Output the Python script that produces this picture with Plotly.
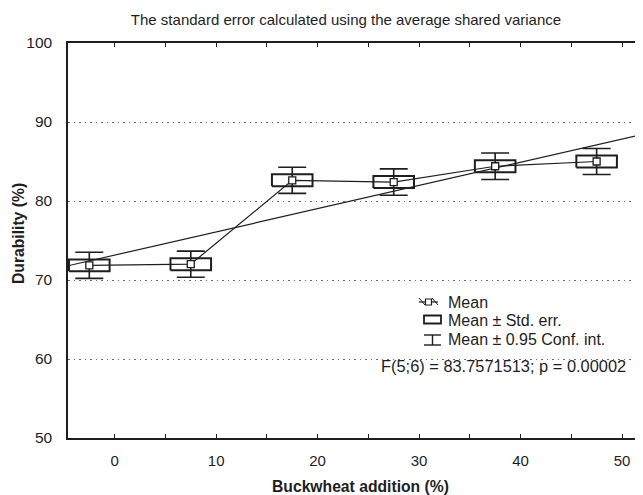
import plotly.graph_objects as go

# ---- data ----
categories = [0, 10, 20, 30, 40, 50]          # Buckwheat addition (%)
means = [71.86, 72.0, 82.62, 82.4, 84.4, 85.0]  # Durability (%)
std_err = [0.74, 0.75, 0.76, 0.77, 0.76, 0.76]
conf95 = [1.65, 1.65, 1.65, 1.67, 1.67, 1.65]
trend_x = [-4.6, 52.07]
trend_y = [71.8, 88.45]
legend_labels = ["Mean", "Mean \u00b1 Std. err.", "Mean \u00b1 0.95 Conf. int."]
stat_text = "F(5;6) = 83.7571513; p = 0.00002"
title_text = "The standard error calculated using the average shared variance"

# ---- styling ----
INK = "#1e1e1e"
FONT = "Liberation Sans, Arial, sans-serif"
OFFSET = -2.5      # categories are drawn shifted left of the scale
HALF_W = 2.0       # half width of the boxes in axis units
PAGE = 8           # default body margin of the html page
W, H = 643 - PAGE, 495 - PAGE
L, R, T = 60, 0, 35
B = 57
PW, PH = W - L - R, H - T - B

pos = [c + OFFSET for c in categories]

fig = go.Figure()

# trend line
fig.add_trace(go.Scatter(x=trend_x, y=trend_y, mode="lines",
                         line=dict(color=INK, width=1.2), hoverinfo="skip"))

# confidence interval whiskers
fig.add_trace(go.Scatter(x=pos, y=means, mode="markers",
                         marker=dict(size=1, color="rgba(0,0,0,0)"),
                         error_y=dict(type="data", array=conf95, visible=True,
                                      color=INK, thickness=1.6, width=14),
                         hoverinfo="skip"))

# standard error boxes
bx, by = [], []
for p, m, s in zip(pos, means, std_err):
    bx += [p - HALF_W, p + HALF_W, p + HALF_W, p - HALF_W, p - HALF_W, None]
    by += [m - s, m - s, m + s, m + s, m - s, None]
fig.add_trace(go.Scatter(x=bx, y=by, mode="lines",
                         line=dict(color=INK, width=2.0), hoverinfo="skip"))

# mean line + markers
fig.add_trace(go.Scatter(x=pos, y=means, mode="lines+markers",
                         line=dict(color=INK, width=1.2),
                         marker=dict(symbol="square", size=7, color="white",
                                     line=dict(color=INK, width=1.3))))

# ---- legend drawn by hand (paper coordinates from page pixel positions) ----
def px(xp):
    return (xp - PAGE - L) / PW

def py(yp):
    return (T + PH - (yp - PAGE)) / PH

shapes = []
# Mean icon
shapes.append(dict(type="line", xref="paper", yref="paper",
                   x0=px(419), x1=px(438), y0=py(302), y1=py(302),
                   line=dict(color=INK, width=1.2)))
shapes.append(dict(type="line", xref="paper", yref="paper",
                   x0=px(419), x1=px(425), y0=py(298), y1=py(305),
                   line=dict(color=INK, width=1.0)))
shapes.append(dict(type="line", xref="paper", yref="paper",
                   x0=px(432), x1=px(438), y0=py(298), y1=py(305),
                   line=dict(color=INK, width=1.0)))
shapes.append(dict(type="rect", xref="paper", yref="paper",
                   x0=px(425.5), x1=px(431.5), y0=py(305), y1=py(299),
                   fillcolor="white", line=dict(color=INK, width=1.2)))
# Box icon
shapes.append(dict(type="rect", xref="paper", yref="paper",
                   x0=px(424), x1=px(441), y0=py(323.5), y1=py(315.5),
                   line=dict(color=INK, width=1.8)))
# Whisker icon
shapes.append(dict(type="line", xref="paper", yref="paper",
                   x0=px(424), x1=px(441), y0=py(335), y1=py(335),
                   line=dict(color=INK, width=1.4)))
shapes.append(dict(type="line", xref="paper", yref="paper",
                   x0=px(424), x1=px(441), y0=py(345), y1=py(345),
                   line=dict(color=INK, width=1.4)))
shapes.append(dict(type="line", xref="paper", yref="paper",
                   x0=px(432.5), x1=px(432.5), y0=py(335), y1=py(345),
                   line=dict(color=INK, width=1.4)))

annotations = []
for lbl, yc in zip(legend_labels, [302, 320.5, 339.5]):
    annotations.append(dict(text=lbl, xref="paper", yref="paper",
                            x=px(446), y=py(yc), xanchor="left", yanchor="middle",
                            showarrow=False, font=dict(size=16, color=INK, family=FONT)))
annotations.append(dict(text=stat_text, xref="paper", yref="paper",
                        x=px(379), y=py(366), xanchor="left", yanchor="middle",
                        showarrow=False, font=dict(size=16.4, color=INK, family=FONT)))
# axis titles
annotations.append(dict(text="<b>Buckwheat addition (%)</b>", xref="paper", yref="paper",
                        x=px(360), y=py(486), xanchor="center", yanchor="middle",
                        showarrow=False, font=dict(size=15.7, color=INK, family=FONT)))
annotations.append(dict(text="<b>Durability (%)</b>", xref="paper", yref="paper",
                        x=px(18), y=py(234), xanchor="center", yanchor="middle",
                        textangle=-90, showarrow=False,
                        font=dict(size=15.7, color=INK, family=FONT)))

fig.update_layout(
    width=W, height=H,
    margin=dict(l=L, r=R, t=T, b=B, pad=0),
    paper_bgcolor="white", plot_bgcolor="white",
    showlegend=False,
    font=dict(family=FONT, size=14, color=INK),
    title=dict(text=title_text, x=(346 - PAGE) / W, xanchor="center", xref="container",
               y=1 - (20 - PAGE) / H, yanchor="middle", yref="container",
               font=dict(size=15, color=INK, family=FONT)),
    shapes=shapes, annotations=annotations,
)

fig.update_xaxes(range=[trend_x[0], trend_x[1]], tickmode="array",
                 tickvals=categories, ticks="inside", ticklen=4, tickwidth=1.2,
                 tickcolor=INK, showline=True, linecolor=INK, linewidth=1.5,
                 mirror="ticks", showgrid=False, zeroline=False,
                 minor=dict(dtick=5, tick0=0, ticks="inside", ticklen=4,
                            tickwidth=1.2, tickcolor=INK, showgrid=False),
                 tickfont=dict(size=15, color=INK, family=FONT),
                 ticklabelstandoff=8)
fig.update_yaxes(range=[50, 100], tickmode="array", tickvals=[50, 60, 70, 80, 90, 100],
                 ticks="", showline=True, linecolor=INK, linewidth=1.5, mirror=False,
                 showgrid=True, gridcolor="#6a6a6a", griddash="1.5px,4px", gridwidth=1,
                 zeroline=False, tickfont=dict(size=15.5, color=INK, family=FONT),
                 ticklabelstandoff=11)

fig.write_html("out.html")
